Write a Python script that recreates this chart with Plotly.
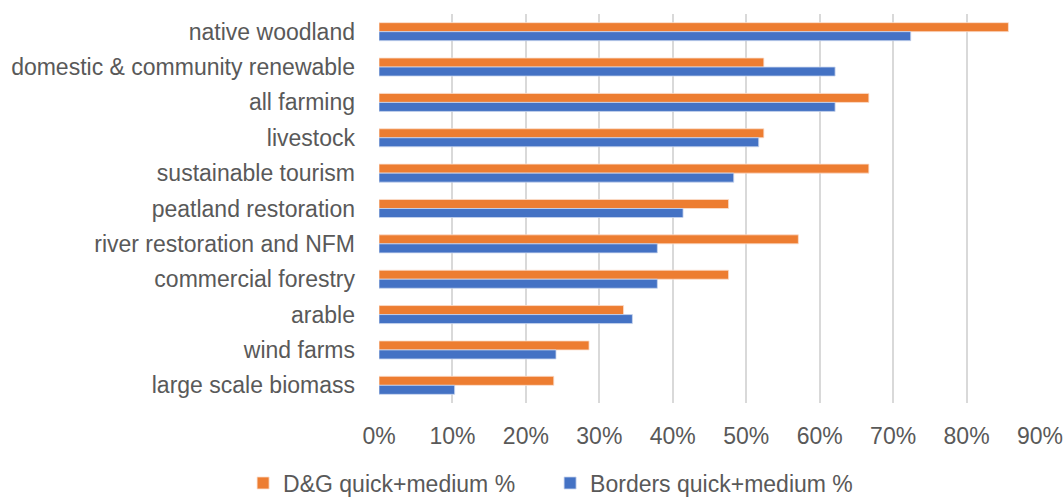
import plotly.graph_objects as go

categories = ["native woodland", "domestic & community renewable", "all farming", "livestock",
              "sustainable tourism", "peatland restoration", "river restoration and NFM",
              "commercial forestry", "arable", "wind farms", "large scale biomass"]
dg_values = [0.857, 0.524, 0.667, 0.524, 0.667, 0.476, 0.571, 0.476, 0.333, 0.286, 0.238]
borders_values = [0.724, 0.621, 0.621, 0.517, 0.483, 0.414, 0.379, 0.379, 0.345, 0.241, 0.103]
tick_vals = [0, 0.1, 0.2, 0.3, 0.4, 0.5, 0.6, 0.7, 0.8, 0.9]
tick_text = ["0%", "10%", "20%", "30%", "40%", "50%", "60%", "70%", "80%", "90%"]

font_family = "Liberation Sans, Arial"
grey = "#595959"

fig = go.Figure()
fig.add_trace(go.Bar(y=categories, x=dg_values, orientation="h", name="D&G quick+medium %",
                     marker=dict(color="#ED7D31", line=dict(color="#FBE0CF", width=0.8))))
fig.add_trace(go.Bar(y=categories, x=borders_values, orientation="h", name="Borders quick+medium %",
                     marker=dict(color="#4472C4", line=dict(color="#C9D5EE", width=0.8))))

fig.update_layout(
    width=1064, height=499,
    paper_bgcolor="white", plot_bgcolor="white",
    margin=dict(l=379, r=24, t=14, b=96, pad=0),
    barmode="group", bargap=0.49, bargroupgap=0,
    font=dict(family=font_family, size=23, color=grey),
    showlegend=True,
    legend=dict(orientation="h", xref="container", yref="container", x=0.517, y=0.032,
                xanchor="center", yanchor="middle", font=dict(size=23, color=grey),
                itemwidth=30, traceorder="normal", entrywidth=262, entrywidthmode="pixels"),
    xaxis=dict(range=[0, 0.9], tickvals=tick_vals, ticktext=tick_text, showgrid=True,
               gridcolor="#D9D9D9", gridwidth=1.5, zeroline=False, showline=False,
               automargin=False,
               tickfont=dict(size=23, color=grey), ticks="", ticklabelstandoff=17),
    yaxis=dict(autorange="reversed", showgrid=False, showline=False, ticks="",
               automargin=False,
               tickfont=dict(size=23, color=grey), ticklabelstandoff=23),
)

fig.write_html("out.html", config={"displayModeBar": False},
               post_script="document.body.style.margin='0';document.body.style.overflow='hidden';")
